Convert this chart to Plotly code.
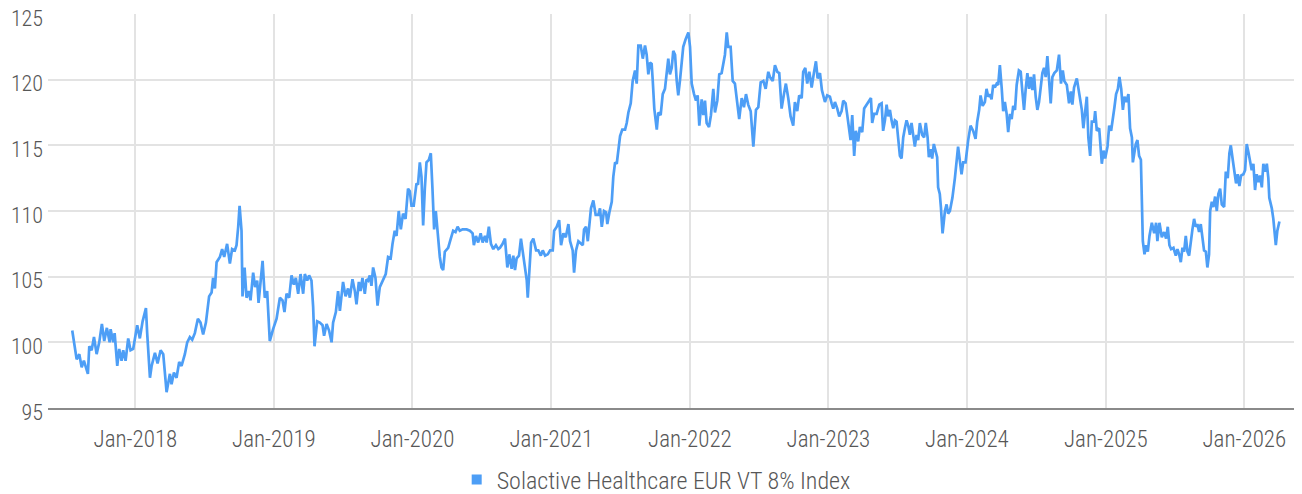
import datetime as dt
import plotly.graph_objects as go

# Time positions (decimal years) and index levels
years = [
    2017.544, 2017.556, 2017.576, 2017.595, 2017.612, 2017.628, 2017.657, 2017.667, 2017.684, 2017.701,
    2017.720, 2017.739, 2017.758, 2017.775, 2017.794, 2017.814, 2017.821, 2017.840, 2017.850, 2017.869,
    2017.883, 2017.900, 2017.912, 2017.929, 2017.948, 2017.965, 2017.984, 2018.013, 2018.032, 2018.052,
    2018.076, 2018.085, 2018.105, 2018.117, 2018.141, 2018.160, 2018.182, 2018.201, 2018.225,
    2018.249, 2018.261, 2018.278, 2018.297, 2018.316, 2018.333, 2018.357, 2018.374, 2018.393, 2018.410,
    2018.429, 2018.451, 2018.470, 2018.489, 2018.509, 2018.518, 2018.532, 2018.550, 2018.561, 2018.574,
    2018.586, 2018.610, 2018.626, 2018.641, 2018.662, 2018.682, 2018.698, 2018.718, 2018.730, 2018.742,
    2018.752, 2018.766, 2018.773, 2018.788, 2018.802, 2018.819, 2018.831, 2018.850, 2018.864, 2018.879,
    2018.889, 2018.918, 2018.934, 2018.951, 2018.970, 2018.994, 2019.019,
    2019.043, 2019.062, 2019.076, 2019.091, 2019.110, 2019.127, 2019.144, 2019.158, 2019.175, 2019.192,
    2019.211, 2019.223, 2019.240, 2019.254, 2019.271, 2019.283, 2019.293, 2019.312, 2019.331, 2019.351,
    2019.362, 2019.380, 2019.398, 2019.416, 2019.427, 2019.447, 2019.463, 2019.476, 2019.499, 2019.517,
    2019.535, 2019.548, 2019.567, 2019.584, 2019.596, 2019.613, 2019.625, 2019.639, 2019.656, 2019.668,
    2019.680, 2019.692, 2019.704, 2019.716, 2019.733, 2019.748, 2019.764, 2019.788, 2019.807, 2019.824,
    2019.843,
    2019.856, 2019.872, 2019.885, 2019.901, 2019.916, 2019.932, 2019.950, 2019.968, 2019.981, 2019.993,
    2020.009, 2020.029, 2020.040, 2020.053, 2020.065, 2020.077, 2020.089, 2020.101, 2020.118, 2020.132,
    2020.144, 2020.156, 2020.168, 2020.185, 2020.197, 2020.209, 2020.221, 2020.233, 2020.257, 2020.276,
    2020.293, 2020.310, 2020.325, 2020.341, 2020.361, 2020.390, 2020.413, 2020.433, 2020.442, 2020.457,
    2020.473, 2020.491, 2020.505, 2020.522, 2020.534, 2020.550, 2020.565, 2020.582, 2020.601, 2020.618,
    2020.630, 2020.649, 2020.666, 2020.683, 2020.697, 2020.714, 2020.726, 2020.738, 2020.750, 2020.767,
    2020.781, 2020.798, 2020.810, 2020.823, 2020.830, 2020.841, 2020.854, 2020.870, 2020.890, 2020.906,
    2020.924, 2020.938, 2020.955, 2020.974, 2020.991, 2021.010, 2021.020, 2021.039, 2021.056, 2021.070,
    2021.087, 2021.104, 2021.123, 2021.135, 2021.154, 2021.164, 2021.178, 2021.195, 2021.212, 2021.227,
    2021.236, 2021.250, 2021.263, 2021.274, 2021.286, 2021.303, 2021.320, 2021.339, 2021.351, 2021.364,
    2021.380, 2021.395, 2021.404, 2021.419, 2021.436, 2021.447, 2021.460, 2021.472,
    2021.483, 2021.496, 2021.512, 2021.532, 2021.544, 2021.556, 2021.573, 2021.587, 2021.604, 2021.616,
    2021.628, 2021.645, 2021.660, 2021.676, 2021.688, 2021.700, 2021.712, 2021.724, 2021.732, 2021.743,
    2021.761, 2021.772, 2021.789, 2021.804, 2021.820, 2021.833, 2021.844, 2021.856, 2021.869, 2021.880,
    2021.893, 2021.905, 2021.916, 2021.929, 2021.941, 2021.952, 2021.970, 2021.989, 2022.001, 2022.013,
    2022.030, 2022.044, 2022.056, 2022.068, 2022.085, 2022.097, 2022.109, 2022.121, 2022.138, 2022.152,
    2022.169, 2022.181, 2022.198, 2022.212, 2022.229, 2022.241, 2022.253, 2022.266, 2022.277, 2022.294,
    2022.309, 2022.325, 2022.342, 2022.356, 2022.374, 2022.390, 2022.405, 2022.421, 2022.439, 2022.458,
    2022.477, 2022.494, 2022.511, 2022.530, 2022.547, 2022.566, 2022.578, 2022.598, 2022.614, 2022.631,
    2022.645, 2022.662, 2022.679, 2022.693, 2022.710, 2022.727, 2022.746, 2022.758, 2022.775, 2022.789,
    2022.807, 2022.818, 2022.833, 2022.847, 2022.862, 2022.879, 2022.895, 2022.910, 2022.922, 2022.939,
    2022.953, 2022.975, 2022.991,
    2023.011, 2023.023, 2023.035, 2023.047, 2023.064, 2023.078, 2023.095, 2023.107, 2023.124, 2023.136,
    2023.148, 2023.160, 2023.172, 2023.186, 2023.198, 2023.215, 2023.227, 2023.244, 2023.258, 2023.276,
    2023.294, 2023.307, 2023.316, 2023.330, 2023.348, 2023.367, 2023.384, 2023.395, 2023.408, 2023.420,
    2023.431, 2023.444, 2023.456, 2023.468, 2023.480, 2023.492, 2023.504, 2023.516, 2023.528, 2023.540,
    2023.552, 2023.564, 2023.576, 2023.588, 2023.600, 2023.612, 2023.624, 2023.636, 2023.648, 2023.660,
    2023.677, 2023.691, 2023.703, 2023.716, 2023.725, 2023.737, 2023.749, 2023.761, 2023.774, 2023.785,
    2023.792, 2023.804, 2023.812, 2023.824, 2023.841, 2023.853, 2023.864, 2023.877, 2023.895, 2023.913,
    2023.936, 2023.949, 2023.961, 2023.973, 2023.990, 2024.009, 2024.026, 2024.045, 2024.062, 2024.074,
    2024.088, 2024.098, 2024.113, 2024.129, 2024.141, 2024.153, 2024.165, 2024.177, 2024.189, 2024.201,
    2024.214, 2024.225, 2024.237, 2024.250, 2024.261, 2024.273, 2024.286, 2024.297, 2024.310, 2024.322,
    2024.333, 2024.346, 2024.358, 2024.374, 2024.387, 2024.398, 2024.411, 2024.423, 2024.435, 2024.447,
    2024.459, 2024.471, 2024.483, 2024.495, 2024.507, 2024.519, 2024.531, 2024.543, 2024.555, 2024.567,
    2024.579, 2024.591, 2024.603, 2024.615, 2024.629, 2024.647, 2024.663, 2024.677, 2024.690, 2024.701,
    2024.719, 2024.735, 2024.748, 2024.759, 2024.771, 2024.791, 2024.810, 2024.827, 2024.838, 2024.851,
    2024.863, 2024.874, 2024.887, 2024.899, 2024.916, 2024.923, 2024.935, 2024.952, 2024.964, 2024.971,
    2024.983, 2024.995, 2025.012, 2025.024, 2025.038, 2025.051, 2025.062, 2025.074, 2025.087, 2025.098,
    2025.111, 2025.123, 2025.134, 2025.147, 2025.163, 2025.175, 2025.188, 2025.195, 2025.204, 2025.216,
    2025.228, 2025.240, 2025.253, 2025.260, 2025.267, 2025.279, 2025.291, 2025.303, 2025.315, 2025.332,
    2025.349, 2025.363, 2025.372, 2025.387, 2025.404, 2025.421, 2025.435, 2025.447, 2025.459, 2025.471,
    2025.488, 2025.505, 2025.517, 2025.529, 2025.541, 2025.553, 2025.565, 2025.577, 2025.589, 2025.601,
    2025.613, 2025.625, 2025.637, 2025.649, 2025.661, 2025.673, 2025.685, 2025.697, 2025.709, 2025.722,
    2025.733, 2025.745, 2025.753, 2025.765, 2025.776, 2025.789, 2025.801, 2025.812, 2025.825, 2025.837,
    2025.854, 2025.866, 2025.880, 2025.892, 2025.902, 2025.916, 2025.928, 2025.940, 2025.952, 2025.964,
    2025.976, 2025.993, 2026.005, 2026.017, 2026.029, 2026.041, 2026.053, 2026.065, 2026.077, 2026.089,
    2026.101, 2026.113, 2026.126, 2026.137, 2026.149, 2026.162, 2026.173, 2026.180, 2026.198, 2026.209,
    2026.217, 2026.227, 2026.238, 2026.253,
]

index_values = [
    100.9, 100.0, 98.7, 99.1, 98.1, 98.6, 97.6, 99.7, 99.4, 100.4,
    99.1, 100.0, 101.4, 100.1, 101.1, 100.0, 101.0, 100.0, 100.7, 98.2,
    99.5, 98.6, 99.4, 98.6, 100.3, 99.4, 99.5, 101.3, 100.3, 101.6,
    102.6, 100.7, 97.3, 98.2, 99.2, 98.4, 99.4, 99.1, 96.2,
    97.6, 96.8, 97.7, 97.3, 98.5, 98.2, 99.1, 100.0, 100.4, 100.2,
    100.7, 101.8, 101.5, 100.6, 101.5, 102.3, 103.5, 103.8, 104.9, 104.1,
    106.1, 106.5, 107.1, 106.5, 107.5, 106.0, 107.1, 107.0, 107.4, 108.8,
    110.4, 108.5, 103.5, 105.7, 103.4, 103.9, 103.2, 105.3, 104.2, 104.7,
    103.0, 106.2, 103.4, 103.9, 100.1, 101.0, 101.8,
    103.4, 103.2, 102.3, 103.7, 103.4, 105.1, 104.4, 104.9, 103.7, 105.2,
    103.7, 105.2, 104.7, 105.1, 104.7, 102.7, 99.7, 101.6, 101.5, 101.3,
    100.5, 101.4, 100.9, 100.0, 101.5, 102.3, 103.9, 102.4, 104.6, 103.5,
    104.1, 103.4, 104.8, 103.9, 102.9, 104.6, 103.9, 104.9, 103.7, 104.8,
    104.7, 105.1, 104.3, 105.7, 104.9, 102.8, 104.2, 104.7, 105.2, 106.5,
    106.4,
    107.5, 108.5, 108.1, 110.0, 108.6, 109.8, 109.4, 111.7, 111.5, 110.4,
    110.4, 112.1, 112.0, 113.7, 112.6, 108.9, 111.7, 113.7, 113.9, 114.4,
    111.7, 108.6, 110.0, 107.5, 106.5, 105.7, 105.5, 106.9, 107.2, 107.9,
    108.5, 108.4, 108.8, 108.5, 108.6, 108.6, 108.5, 108.3, 107.4, 108.1,
    107.6, 108.3, 107.6, 108.1, 107.6, 108.8, 107.5, 107.1, 107.4, 107.1,
    107.2, 107.5, 107.9, 105.7, 106.7, 105.6, 106.6, 105.5, 106.4, 106.6,
    107.9, 106.6, 105.7, 104.7, 103.4, 105.2, 107.6, 107.9, 107.0, 107.0,
    106.6, 107.0, 106.6, 106.7, 107.0, 107.0, 108.5, 108.8, 109.3, 107.4,
    108.3, 108.0, 109.0, 107.7, 107.0, 105.3, 107.0, 107.7, 107.5, 107.4,
    108.6, 108.8, 107.7, 108.9, 110.2, 110.8, 109.7, 109.7, 110.2, 108.8,
    110.0, 109.9, 109.0, 109.9, 110.7, 112.6, 113.7, 113.6,
    114.4, 115.7, 116.2, 116.2, 116.7, 117.5, 118.2, 119.9, 120.7, 119.7,
    122.6, 122.6, 121.6, 122.6, 121.9, 120.4, 121.3, 121.2, 119.9, 117.8,
    116.2, 117.5, 117.3, 118.9, 119.3, 120.4, 121.6, 120.4, 120.9, 122.2,
    121.9, 119.9, 118.8, 120.0, 121.2, 122.5, 123.1, 123.6, 122.5, 119.7,
    118.9, 118.4, 118.8, 116.5, 118.5, 117.3, 118.4, 116.7, 116.4, 117.3,
    119.3, 117.5, 118.4, 120.4, 120.5, 121.2, 121.9, 123.6, 122.5, 122.5,
    119.9, 119.7, 118.3, 117.0, 118.6, 117.9, 118.9, 118.1, 117.6, 114.9,
    117.7, 117.9, 119.8, 119.9, 119.3, 120.6, 120.2, 119.9, 121.1, 120.6,
    120.5, 117.8, 118.9, 119.7, 118.6, 117.2, 116.5, 118.3, 117.6, 118.8,
    118.6, 120.6, 120.9, 119.7, 120.6, 119.4, 120.5, 121.4, 120.1, 120.5,
    119.2, 118.3, 118.8,
    118.7, 118.2, 117.8, 118.3, 117.8, 117.2, 117.6, 118.4, 118.2, 117.3,
    116.5, 115.4, 117.3, 114.2, 116.1, 115.3, 116.4, 116.0, 117.8, 118.1,
    118.4, 118.6, 116.7, 117.4, 117.4, 118.1, 118.2, 116.1, 116.9, 118.1,
    117.2, 117.7, 116.9, 116.3, 116.9, 116.8, 115.5, 114.2, 114.0, 115.6,
    116.3, 116.9, 116.5, 115.8, 116.7, 115.6, 114.9, 115.8, 115.4, 116.7,
    115.8, 115.6, 116.7, 115.6, 114.1, 114.7, 114.0, 115.1, 114.4, 114.1,
    111.8, 111.3, 110.3, 108.3, 110.0, 110.5, 109.8, 110.0, 111.0, 112.5,
    114.9, 113.7, 112.8, 113.7, 113.7, 115.4, 116.5, 116.1, 115.5, 116.8,
    117.7, 118.8, 118.0, 118.3, 119.3, 118.7, 118.9, 118.5, 119.6, 119.4,
    119.7, 119.6, 121.1, 119.4, 117.6, 118.3, 117.4, 116.0, 117.4, 117.0,
    118.0, 117.7, 119.6, 120.7, 120.6, 119.2, 117.7, 119.3, 120.5, 119.3,
    120.2, 119.2, 120.4, 118.7, 117.7, 118.3, 119.6, 120.5, 120.9, 120.2,
    121.8, 119.6, 118.2, 120.2, 120.5, 120.7, 121.9, 119.7, 120.7, 119.9,
    119.6, 118.2, 119.1, 118.1, 119.4, 120.1, 118.9, 117.7, 116.3, 117.8,
    118.7, 115.6, 114.2, 116.8, 116.8, 117.6, 116.1, 116.3, 114.7, 113.6,
    114.6, 114.0, 114.9, 116.5, 116.1, 116.9, 117.9, 118.9, 119.3, 120.2,
    119.3, 117.7, 118.7, 118.3, 118.9, 116.3, 115.6, 113.7, 114.4, 115.1,
    115.4, 114.2, 113.9, 110.0, 107.7, 106.7, 107.4, 106.9, 108.1, 109.1,
    108.3, 109.1, 107.7, 109.1, 108.0, 108.4, 107.9, 108.8, 107.4, 107.1,
    107.2, 106.6, 107.1, 106.7, 106.1, 107.2, 106.9, 108.1, 106.9, 106.6,
    107.7, 108.6, 109.4, 108.8, 109.0, 108.4, 109.0, 108.1, 107.0, 106.9,
    105.7, 106.7, 110.0, 110.7, 110.3, 111.1, 110.0, 111.3, 111.7, 110.5,
    110.3, 113.0, 112.5, 114.4, 115.0, 113.9, 113.0, 112.1, 112.8, 111.9,
    112.7, 112.8, 113.1, 115.1, 114.5, 113.6, 113.1, 113.6, 111.6, 112.8,
    112.2, 112.7, 111.8, 113.6, 113.0, 113.6, 112.5, 111.0, 110.2, 109.4,
    108.3, 107.4, 108.5, 109.2,
]

series_name = "Solactive Healthcare EUR VT 8% Index"
y_ticks = [95, 100, 105, 110, 115, 120, 125]


def to_date(y):
    year = int(y)
    start = dt.datetime(year, 1, 1)
    length = (dt.datetime(year + 1, 1, 1) - start).days
    return start + dt.timedelta(days=(y - year) * length)


dates = [to_date(v) for v in years]

LINE = "#4d9ef6"
FONT = "Roboto Condensed, Roboto, sans-serif"
TEXT = "#575757"

fig = go.Figure()
fig.add_trace(go.Scatter(
    x=dates, y=index_values, mode="lines",
    line=dict(color=LINE, width=2.7),
    name=series_name, showlegend=False,
))
fig.add_trace(go.Scatter(
    x=[None], y=[None], mode="markers",
    marker=dict(symbol="square", color=LINE, size=10),
    name=series_name, showlegend=True,
))

# the page body adds an 8px offset, so the figure is drawn 8px smaller
fig.update_layout(
    width=1294, height=486,
    margin=dict(l=40, r=0, t=6, b=86),
    paper_bgcolor="white", plot_bgcolor="white",
    font=dict(family=FONT, size=23, color=TEXT, weight=300),
    legend=dict(orientation="h", x=0.485, xanchor="center",
                yref="container", y=0.029, yanchor="middle",
                font=dict(size=24, color=TEXT, weight=300), itemwidth=30,
                bgcolor="rgba(0,0,0,0)"),
    showlegend=True,
)
fig.update_xaxes(
    type="date",
    range=[to_date(2017.369), to_date(2026.416)],
    tick0="2018-01-01", dtick="M12", tickformat="%b-%Y",
    showgrid=True, gridcolor="#e3e3e3", gridwidth=2,
    showline=True, linecolor="#8a8a8a", linewidth=2,
    ticks="", ticklabelstandoff=9, zeroline=False, automargin=False,
)
fig.update_yaxes(
    range=[95, 125], tickvals=y_ticks,
    showgrid=True, gridcolor="#e3e3e3", gridwidth=2,
    showline=False, ticks="", zeroline=False, automargin=False,
    tickfont=dict(size=22),
    ticklabelstandoff=4, ticklabeloverflow="allow", ticklabelshift=4,
)

fig.write_html("out.html")
